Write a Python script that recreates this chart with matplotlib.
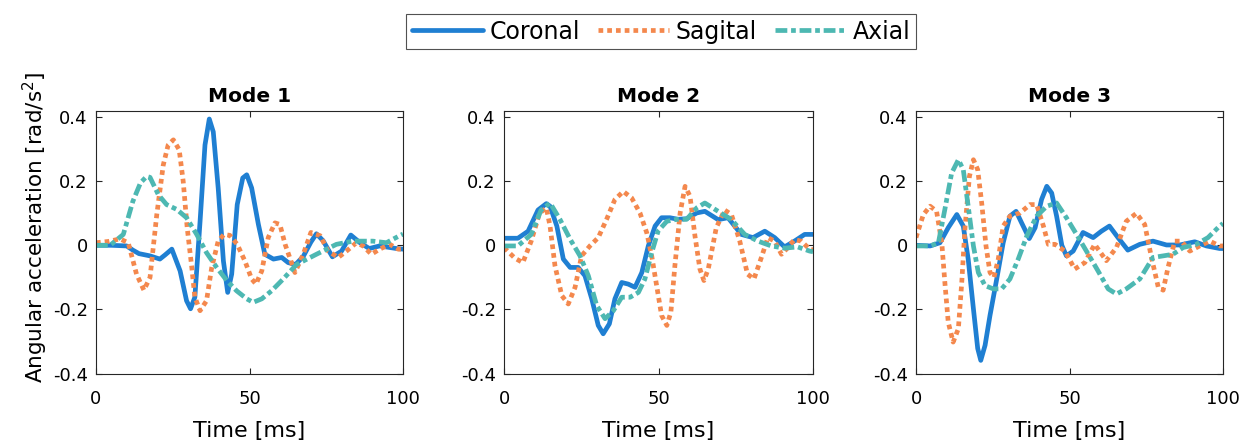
import matplotlib.pyplot as plt

plt.rcParams['font.family'] = ['DejaVu Sans']

# ---- data (time in ms, acceleration in rad/s^2) ----
m1_cor_t = [0, 5, 10, 12, 14, 17.6, 20.8, 22.5, 24.7, 27.4, 29.5, 30.8, 32.2, 33.9, 35.5, 36.9, 38.2, 39.8,
            41.5, 42.9, 44.2, 46, 47.8, 49.1, 50.7, 52.9, 55, 57.8, 60.5, 62.6, 65, 67.5, 70, 71.8, 74, 77,
            80, 83, 86, 89, 92.4, 97.8, 100]
m1_cor_y = [0, 0, -0.002, -0.015, -0.026, -0.033, -0.043, -0.03, -0.012, -0.08, -0.173, -0.198, -0.162,
            0.075, 0.313, 0.394, 0.354, 0.179, -0.049, -0.147, -0.09, 0.127, 0.21, 0.22, 0.179, 0.065,
            -0.028, -0.043, -0.038, -0.054, -0.06, -0.035, 0.01, 0.036, 0.014, -0.036, -0.018, 0.032, 0.008,
            -0.01, -0.002, -0.01, -0.012]
m1_sag_t = [0, 4, 7.8, 10.5, 13.2, 15.6, 17.6, 19.8, 21.9, 23.5, 25.2, 27.1, 28.4, 29.7, 31.2, 32.2, 33.9,
            36, 37.7, 39.8, 41.7, 43.6, 46, 48.5, 50.7, 52.1, 54, 56.1, 58.3, 59.9, 61.6, 64.8, 67.5, 70, 73,
            75.6, 78.9, 81.6, 84.8, 87, 89.7, 92.4, 95.7, 98.4, 100]
m1_sag_y = [0.008, 0.012, 0.02, 0.008, -0.09, -0.14, -0.1, 0.096, 0.25, 0.313, 0.329, 0.298, 0.2, 0.055,
            -0.069, -0.162, -0.204, -0.173, -0.069, 0.013, 0.034, 0.031, 0.003, -0.049, -0.105, -0.121,
            -0.08, 0.024, 0.07, 0.065, 0.003, -0.085, -0.028, 0.04, 0.03, -0.018, -0.038, -0.018, 0.008,
            -0.002, -0.028, -0.012, 0.003, -0.012, -0.012]
m1_axi_t = [0, 4.6, 8.9, 12, 14.5, 16.5, 17.6, 20.3, 23, 26.3, 29.5, 32.8, 36, 39.3, 42.6, 45.8, 49.1, 51.2,
            54, 57.2, 61, 65.3, 71.8, 78.3, 83.7, 90.2, 94.6, 98.9, 100]
m1_axi_y = [0, 0, 0.034, 0.137, 0.195, 0.215, 0.212, 0.158, 0.127, 0.112, 0.086, 0.034, -0.023, -0.069,
            -0.11, -0.142, -0.167, -0.178, -0.167, -0.142, -0.105, -0.06, -0.028, 0.003, 0.013, 0.013,
            0.008, 0.03, 0.035]

m2_cor_t = [0, 4.5, 7.8, 11, 13.7, 14.9, 17.1, 19.2, 21.4, 24, 26.2, 28.4, 30.5, 32.1, 34.1, 35.9, 38.1,
            40.2, 42.4, 44.6, 46.7, 48.9, 51, 53.7, 56.4, 59.1, 62.4, 65, 69.3, 72.5, 76.8, 80.6, 84.4, 87.6,
            90.8, 94, 97.3, 100]
m2_cor_y = [0.022, 0.022, 0.044, 0.11, 0.13, 0.122, 0.06, -0.043, -0.069, -0.069, -0.095, -0.167, -0.25,
            -0.276, -0.245, -0.167, -0.116, -0.121, -0.131, -0.085, -0.002, 0.06, 0.086, 0.086, 0.081,
            0.083, 0.101, 0.106, 0.08, 0.086, 0.034, 0.024, 0.044, 0.024, -0.005, 0.013, 0.034, 0.034]
m2_sag_t = [0, 3.5, 6.1, 8.8, 11.5, 13.7, 14.9, 16.5, 18.7, 20.8, 23, 25.1, 27.8, 30.5, 33.2, 35.9, 38.6,
            41.3, 44, 46.2, 47.8, 49.4, 51, 52.7, 54, 55.3, 57, 58.6, 60.2, 61.8, 63.4, 64.7, 66.1, 68.7,
            71.4, 73.6, 76.3, 78.8, 80.9, 83.3, 85.4, 87.6, 89.8, 91.9, 94, 96.2, 98.9, 100]
m2_sag_y = [-0.007, -0.04, -0.054, 0.013, 0.1, 0.117, 0.06, -0.064, -0.157, -0.183, -0.131, -0.033,
            -0.002, 0.024, 0.081, 0.143, 0.168, 0.148, 0.101, 0.039, -0.033, -0.126, -0.219, -0.25, -0.209,
            -0.064, 0.101, 0.184, 0.153, 0.029, -0.074, -0.11, -0.074, 0.055, 0.11, 0.096, 0.013, -0.09,
            -0.105, -0.038, 0.024, 0.013, -0.028, -0.007, 0.018, 0.013, -0.012, -0.014]
m2_axi_t = [0, 4.5, 8.8, 12, 14.9, 18.1, 21.4, 24.6, 27.3, 30, 32.7, 35.4, 38.1, 40.8, 43.5, 45.6, 47.8,
            49.9, 52.7, 55.9, 59.1, 62.4, 65, 69.3, 73.6, 77.9, 82.2, 86.5, 90.8, 95, 98.9, 100]
m2_axi_y = [-0.002, -0.002, 0.034, 0.11, 0.132, 0.081, 0.019, -0.033, -0.095, -0.188, -0.229, -0.204,
            -0.162, -0.162, -0.147, -0.105, -0.023, 0.045, 0.075, 0.081, 0.081, 0.117, 0.132, 0.106, 0.08,
            0.034, 0.013, -0.002, -0.009, -0.005, -0.018, -0.02]

m3_cor_t = [0, 4.6, 7.8, 10.5, 13.3, 15.4, 17, 18.7, 20.1, 21.1, 22.5, 24.1, 26.3, 28.4, 30.6, 32.6, 34.4,
            36.9, 38.8, 40.9, 42.6, 44.2, 45.8, 47.5, 49, 51.2, 54.4, 57.7, 60.4, 63, 65.8, 69, 72.9, 77.2,
            81.6, 85.9, 90.8, 94.6, 98.9, 100]
m3_cor_y = [0, -0.002, 0.008, 0.055, 0.096, 0.06, -0.043, -0.198, -0.322, -0.359, -0.312, -0.219, -0.105,
            0.008, 0.091, 0.106, 0.07, 0.021, 0.055, 0.143, 0.184, 0.163, 0.091, 0.0, -0.033, -0.018, 0.04,
            0.024, 0.044, 0.06, 0.024, -0.015, 0.003, 0.013, 0.001, 0.001, 0.011, -0.002, -0.01, -0.01]
m3_sag_t = [0, 2.4, 4.6, 6.7, 8.4, 9.4, 10.5, 12.1, 13.8, 14.9, 16, 17.4, 18.7, 20.1, 21.4, 22.8, 24.1,
            25.4, 26.8, 28.4, 30.6, 33.9, 37.1, 39.3, 41.5, 43.1, 45.3, 48.5, 51.7, 55, 58.2, 62, 65.3, 68.5,
            71.8, 74.5, 76.7, 78.9, 80.5, 82.1, 84.3, 86.4, 89.2, 92.4, 95.7, 98.9, 100]
m3_sag_y = [0.024, 0.096, 0.122, 0.106, 0.008, -0.116, -0.24, -0.302, -0.26, -0.116, 0.06, 0.215, 0.267,
            0.236, 0.132, -0.002, -0.085, -0.1, -0.043, 0.06, 0.091, 0.101, 0.127, 0.127, 0.06, 0.003,
            0.003, -0.018, -0.074, -0.054, 0.003, -0.048, -0.007, 0.075, 0.1, 0.065, -0.038, -0.13, -0.14,
            -0.069, 0.013, 0.013, -0.018, -0.002, 0.013, -0.002, -0.002]
m3_axi_t = [0, 4.6, 7.3, 9.4, 11.6, 13.8, 15.4, 17, 18.7, 20.3, 22.5, 25.2, 27.9, 30.6, 33.3, 36.1, 39.3,
            42.6, 45.8, 49, 52.3, 55.5, 59.3, 62.6, 65.3, 68.5, 72.9, 77.2, 80.5, 83.7, 87, 91.3, 95.1, 98.9,
            100]
m3_axi_y = [-0.002, -0.002, 0.008, 0.112, 0.225, 0.267, 0.236, 0.122, -0.002, -0.085, -0.126, -0.136,
            -0.136, -0.105, -0.043, 0.029, 0.091, 0.122, 0.132, 0.086, 0.034, -0.018, -0.08, -0.136, -0.152,
            -0.136, -0.105, -0.038, -0.033, -0.028, -0.007, 0.003, 0.024, 0.06, 0.068]

titles = ['Mode 1', 'Mode 2', 'Mode 3']
series_names = ['Coronal', 'Sagital', 'Axial']
yticks = [-0.4, -0.2, 0, 0.2, 0.4]
ytick_labels = ['-0.4', '-0.2', '0', '0.2', '0.4']
xticks = [0, 50, 100]

modes = [
    [(m1_cor_t, m1_cor_y), (m1_sag_t, m1_sag_y), (m1_axi_t, m1_axi_y)],
    [(m2_cor_t, m2_cor_y), (m2_sag_t, m2_sag_y), (m2_axi_t, m2_axi_y)],
    [(m3_cor_t, m3_cor_y), (m3_sag_t, m3_sag_y), (m3_axi_t, m3_axi_y)],
]

colors = ['#1f7fd2', '#f4884d', '#4db8b2']
styles = ['-', (0, (1.0, 0.85)), (0, (2.5, 0.8, 1.0, 0.8))]
caps = ['round', 'butt', 'butt']

fig = plt.figure(figsize=(12.5, 4.47), dpi=100)
lefts = [0.0768, 0.4032, 0.7328]
widths = [0.2456, 0.2472, 0.2456]

handles = []
for i in range(3):
    ax = fig.add_axes([lefts[i], 0.1644, widths[i], 0.588])
    for j, (t, y) in enumerate(modes[i]):
        ln, = ax.plot(t, y, color=colors[j], linestyle=styles[j], linewidth=3.4,
                      dash_capstyle=caps[j], solid_capstyle='round', solid_joinstyle='round',
                      label=series_names[j])
        if i == 0:
            handles.append(ln)
    ax.set_xlim(0, 100)
    ax.set_ylim(-0.4, 0.42)
    ax.set_xticks(xticks)
    ax.set_yticks(yticks)
    ax.set_yticklabels(ytick_labels)
    ax.tick_params(direction='in', top=True, right=True, labelsize=13, length=4, width=0.8,
                   colors='#262626', labelcolor='black')
    ax.tick_params(axis='x', pad=12)
    ax.tick_params(axis='y', pad=6)
    for sp in ax.spines.values():
        sp.set_color('#262626')
        sp.set_linewidth(0.8)
    ax.set_title(titles[i], fontsize=14.5, fontweight='bold', pad=6.5)
    ax.set_xlabel('Time [ms]', fontsize=16, labelpad=9)
    if i == 0:
        ax.set_ylabel('Angular acceleration [rad/s$^2$]', fontsize=15.5)
        ax.yaxis.set_label_coords(-0.15, 0.555)

leg = fig.legend(handles=handles, loc='upper center', bbox_to_anchor=(0.529, 0.98), ncol=3,
                 fontsize=17, frameon=True, fancybox=False, handlelength=3.0, handletextpad=0.3,
                 columnspacing=0.75, borderpad=0.25, borderaxespad=0.2, edgecolor='#262626')
leg.get_frame().set_linewidth(0.8)

fig.savefig('out.png', dpi=100)
